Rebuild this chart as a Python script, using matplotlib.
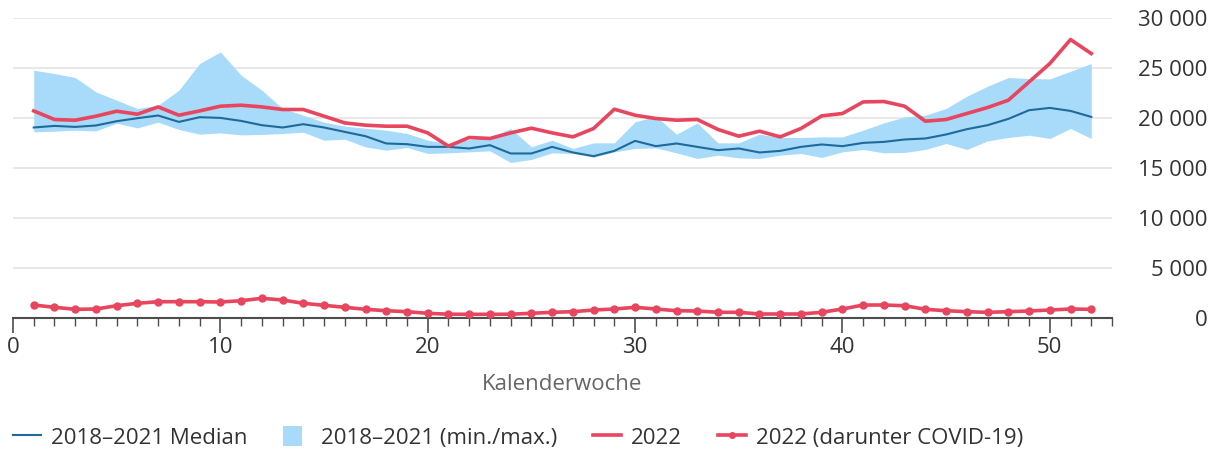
import numpy as np
import matplotlib
matplotlib.use("Agg")
import matplotlib.pyplot as plt
import matplotlib.patches as mpatches
from matplotlib.lines import Line2D
from matplotlib.legend_handler import HandlerPatch
from matplotlib.ticker import FuncFormatter, MultipleLocator

plt.rcParams['font.family'] = ['Open Sans', 'DejaVu Sans']

# Kalenderwochen 1..52
weeks = np.arange(1, 53)

median_2018_2021 = [19070, 19230, 19130, 19270, 19700, 20000, 20270, 19630, 20100, 20030,
                    19730, 19300, 19070, 19400, 19070, 18630, 18200, 17470, 17400, 17130,
                    17130, 16970, 17300, 16470, 16470, 17130, 16570, 16200, 16730, 17730,
                    17200, 17470, 17130, 16800, 16970, 16570, 16730, 17130, 17370, 17200,
                    17530, 17630, 17870, 17970, 18370, 18900, 19300, 19930, 20800, 21030,
                    20730, 20130]

max_2018_2021 = [24800, 24470, 24070, 22630, 21800, 20970, 21300, 22800, 25470, 26630,
                 24300, 22800, 20970, 20300, 19600, 19200, 19000, 18800, 18470, 17800,
                 17470, 17870, 18070, 18970, 17130, 17800, 16970, 17530, 17530, 19630,
                 20200, 18400, 19530, 17530, 17530, 18400, 18070, 18070, 18130, 18130,
                 18800, 19530, 20130, 20300, 20970, 22200, 23200, 24070, 23970, 23930,
                 24700, 25470]

min_2018_2021 = [18630, 18700, 18800, 18730, 19500, 19030, 19600, 18870, 18400, 18530,
                 18330, 18370, 18470, 18600, 17800, 17900, 17130, 16800, 17070, 16470,
                 16530, 16630, 16730, 15570, 15870, 16530, 16470, 16100, 16630, 16970,
                 17030, 16530, 15970, 16300, 16030, 15970, 16300, 16470, 16070, 16630,
                 16870, 16530, 16570, 16870, 17470, 16870, 17730, 18070, 18300, 17970,
                 18970, 17970]

deaths_2022 = [20730, 19870, 19800, 20200, 20700, 20400, 21130, 20300, 20730, 21200,
               21300, 21130, 20870, 20870, 20200, 19530, 19300, 19200, 19200, 18530,
               17200, 18070, 17970, 18530, 19000, 18530, 18130, 18970, 20900, 20300,
               19970, 19800, 19870, 18870, 18200, 18700, 18130, 18970, 20230, 20470,
               21630, 21670, 21200, 19700, 19870, 20470, 21070, 21800, 23630, 25470,
               27870, 26470]

covid_2022 = [1300, 1070, 870, 900, 1230, 1470, 1630, 1630, 1630, 1600,
              1730, 1970, 1800, 1470, 1270, 1070, 870, 730, 630, 470,
              380, 370, 370, 380, 470, 570, 630, 800, 900, 1070,
              900, 730, 700, 570, 570, 400, 400, 400, 570, 900,
              1300, 1300, 1230, 870, 730, 630, 570, 630, 700, 800,
              900, 870]

blue = '#1f6a9a'
band = '#a8dafa'
red = '#e8455e'
grey = '#4d4d4d'
txt = '#333333'


class SquareHandler(HandlerPatch):
    # narrow square patch instead of a full-length box
    def create_artists(self, legend, orig_handle, xdescent, ydescent,
                       width, height, fontsize, trans):
        p = mpatches.Rectangle((-xdescent, -ydescent), height * 0.95, height,
                               facecolor=orig_handle.get_facecolor(),
                               edgecolor='none', transform=trans)
        return [p]


fig = plt.figure(figsize=(12.16, 4.51), dpi=100)
ax = fig.add_axes([13 / 1216, 133 / 451, 1099 / 1216, 299.7 / 451])

ax.fill_between(weeks, min_2018_2021, max_2018_2021, color=band, linewidth=0, zorder=2)
ax.plot(weeks, median_2018_2021, color=blue, linewidth=1.5, zorder=3)
ax.plot(weeks, deaths_2022, color=red, linewidth=2.6, zorder=4)
ax.plot(weeks, covid_2022, color=red, linewidth=2.6, marker='o', markersize=5, zorder=4)

ax.set_xlim(0, 53)
ax.set_ylim(0, 30000)

# y axis on the right, right aligned labels
ax.yaxis.tick_right()
ax.set_yticks(range(0, 30001, 5000))
ax.yaxis.set_major_formatter(FuncFormatter(lambda v, p: f'{int(v):,}'.replace(',', ' ')))
ax.tick_params(axis='y', length=0, pad=69, labelsize=16, labelcolor=txt)
for lbl in ax.get_yticklabels():
    lbl.set_horizontalalignment('right')
ax.grid(axis='y', color='#e8e8e8', linewidth=1.5, zorder=0)

ax.xaxis.set_major_locator(MultipleLocator(10))
ax.xaxis.set_minor_locator(MultipleLocator(1))
ax.tick_params(axis='x', which='major', length=11, width=1.2, color=grey,
               labelsize=16, labelcolor=txt, pad=3)
ax.tick_params(axis='x', which='minor', length=5.5, width=1, color=grey)
ax.set_xlabel('Kalenderwoche', fontsize=16, color='#666666', labelpad=11)

for s in ['top', 'left', 'right']:
    ax.spines[s].set_visible(False)
ax.spines['bottom'].set_color(grey)
ax.spines['bottom'].set_linewidth(1.5)

handles = [
    Line2D([], [], color=blue, linewidth=1.5),
    mpatches.Patch(facecolor=band, edgecolor='none'),
    Line2D([], [], color=red, linewidth=2.6),
    Line2D([], [], color=red, linewidth=2.6, marker='o', markersize=4),
]
labels = ['2018–2021 Median', '2018–2021 (min./max.)', '2022', '2022 (darunter COVID-19)']
fig.legend(handles, labels, loc='lower left', bbox_to_anchor=(-0.002, -0.03), ncol=4,
           frameon=False, fontsize=16, handlelength=1.26, handleheight=1.0,
           handletextpad=0.45, columnspacing=1.6, borderpad=0.2, labelcolor=txt,
           handler_map={mpatches.Patch: SquareHandler()})

fig.savefig('out.png', dpi=100)
